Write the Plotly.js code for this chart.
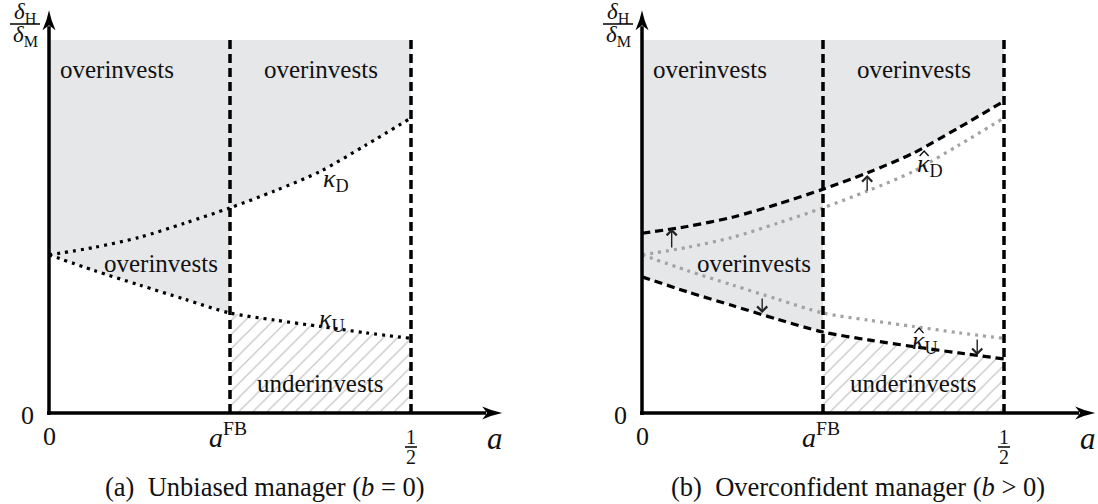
<!DOCTYPE html>
<html>
<head>
<meta charset="utf-8">
<script src="https://cdn.plot.ly/plotly-3.0.1.min.js"></script>
<style>html,body{margin:0;padding:0;background:#fff;}#chart{width:1098px;height:504px;}</style>
</head>
<body>
<div id="chart"></div>
<script>
// ---- data ----
const A = [0, 0.0625, 0.125, 0.1875, 0.25, 0.3125, 0.375, 0.4375, 0.5];
const KAPPA_D = [0.424, 0.444, 0.471, 0.509, 0.550, 0.596, 0.648, 0.718, 0.791];
const KAPPA_U = [0.424, 0.382, 0.343, 0.305, 0.268, 0.249, 0.232, 0.215, 0.200];
const KAPPA_D_HAT = [0.482, 0.500, 0.525, 0.560, 0.600, 0.645, 0.697, 0.765, 0.836];
const KAPPA_U_HAT = [0.365, 0.325, 0.288, 0.251, 0.217, 0.196, 0.178, 0.161, 0.145];
const A_FB = 0.25;
const A_HALF = 0.5;
const Y_TOP = 1;
const SHIFT_ARROW_X = [0.041, 0.311, 0.166, 0.463];
const SHIFT_ARROW_FROM = [0.440, 0.592, 0.311, 0.201];
const SHIFT_ARROW_TO = [0.494, 0.638, 0.268, 0.155];
const REGION_LABELS = ['overinvests', 'overinvests', 'overinvests', 'underinvests'];
const REGION_X = [0.094, 0.375, 0.155, 0.374];
const REGION_Y = [0.920, 0.920, 0.402, 0.080];
const CAPTIONS = ['(a)  Unbiased manager (<i>b</i> = 0)', '(b)  Overconfident manager (<i>b</i> &gt; 0)'];

// ---- styling ----
const FONT = 'Liberation Serif, Times New Roman, serif';
const GRAY = '#e6e7e9';
const DOTS = '3px,5px';
const DASH = '8px,5px';
const iFB = A.indexOf(A_FB);

function sl(arr, a, b) { return arr.slice(a, b); }
function ft(xs, ys, xa, fill, opts) {
  return Object.assign({type: 'scatter', mode: 'lines', x: xs, y: ys, xaxis: xa, yaxis: 'y',
    line: {width: 0, shape: 'spline', smoothing: 0.8}, fill: fill, fillcolor: GRAY,
    hoverinfo: 'skip', showlegend: false}, opts || {});
}
function ln(xs, ys, xa, color, dash) {
  return {type: 'scatter', mode: 'lines', x: xs, y: ys, xaxis: xa, yaxis: 'y',
    line: {width: 3.2, color: color, dash: dash, shape: 'spline', smoothing: 0.8},
    hoverinfo: 'skip', showlegend: false};
}
const hatch = {fill: 'tozeroy', fillcolor: 'rgba(0,0,0,0)',
  fillpattern: {shape: '/', fgcolor: '#c4c4c4', bgcolor: 'rgba(0,0,0,0)', size: 10, solidity: 0.12}};

function regions(xa, kd, ku) {
  const top = A.map(() => Y_TOP);
  return [
    ft(A, top, xa, 'none'),
    ft(A, kd, xa, 'tonexty'),
    ft(sl(A, 0, iFB + 1), sl(kd, 0, iFB + 1), xa, 'none'),
    ft(sl(A, 0, iFB + 1), sl(ku, 0, iFB + 1), xa, 'tonexty'),
    ft(sl(A, iFB), sl(ku, iFB), xa, 'tozeroy', hatch)
  ];
}

const traces = [].concat(
  regions('x', KAPPA_D, KAPPA_U),
  [ln(A, KAPPA_D, 'x', '#000', DOTS), ln(A, KAPPA_U, 'x', '#000', DOTS)],
  regions('x2', KAPPA_D_HAT, KAPPA_U_HAT),
  [ln(A, KAPPA_D, 'x2', '#a2a2a2', DOTS), ln(A, KAPPA_U, 'x2', '#a2a2a2', DOTS),
   ln(A, KAPPA_D_HAT, 'x2', '#000', DASH), ln(A, KAPPA_U_HAT, 'x2', '#000', DASH)]
);

// pixel scale helpers (x: 724 px per unit, y: 373 px per unit)
const PX = 1 / 724, PY = 1 / 373;
const X_TIP = 0.626, Y_TIP = 1.08;

const shapes = [], annotations = [];
['x', 'x2'].forEach((xa, p) => {
  const s = {xref: xa, yref: 'y', layer: 'above'};
  // dashed verticals
  [A_FB, A_HALF].forEach(v => shapes.push(Object.assign({type: 'line', x0: v, x1: v, y0: 0, y1: Y_TOP,
    line: {color: '#000', width: 3.5, dash: '9px,5px'}}, s)));
  // axes
  shapes.push(Object.assign({type: 'line', x0: -2 * PX, x1: X_TIP - 16 * PX, y0: 0, y1: 0, line: {color: '#000', width: 3.5}}, s));
  shapes.push(Object.assign({type: 'line', x0: 0, x1: 0, y0: -2 * PY, y1: Y_TIP - 16 * PY, line: {color: '#000', width: 3.5}}, s));
  const L = 20, W = 6.5, N = 15;
  shapes.push(Object.assign({type: 'path', fillcolor: '#000', line: {width: 0},
    path: `M${X_TIP},0 Q${X_TIP - 10 * PX},${2 * PY} ${X_TIP - L * PX},${W * PY} L${X_TIP - N * PX},0 L${X_TIP - L * PX},${-W * PY} Q${X_TIP - 10 * PX},${-2 * PY} ${X_TIP},0 Z`}, s));
  shapes.push(Object.assign({type: 'path', fillcolor: '#000', line: {width: 0},
    path: `M0,${Y_TIP} Q${2 * PX},${Y_TIP - 10 * PY} ${W * PX},${Y_TIP - L * PY} L0,${Y_TIP - N * PY} L${-W * PX},${Y_TIP - L * PY} Q${-2 * PX},${Y_TIP - 10 * PY} 0,${Y_TIP} Z`}, s));
  // fraction bars
  shapes.push(Object.assign({type: 'line', x0: A_HALF - 6 * PX, x1: A_HALF + 6 * PX, y0: -34 * PY, y1: -34 * PY, line: {color: '#000', width: 1.5}}, s));
  shapes.push(Object.assign({type: 'line', x0: -39 * PX, x1: -9 * PX, y0: Y_TOP + 16 * PY, y1: Y_TOP + 16 * PY, line: {color: '#000', width: 1.5}}, s));

  const t = (x, y, text, size, extra) => annotations.push(Object.assign({xref: xa, yref: 'y', x: x, y: y, text: text,
    showarrow: false, font: {family: FONT, size: size, color: '#111'}, xanchor: 'center', yanchor: 'middle'}, extra || {}));
  // tick labels
  t(-22 * PX, -2 * PY, '0', 26);
  t(0, -23 * PY, '0', 26);
  t(A_FB - 2 * PX, -22 * PY, '<i>a</i><sup>FB</sup>', 28);
  t(A_HALF, -24 * PY, '1', 20);
  t(A_HALF, -44 * PY, '2', 20);
  t(0.616, -25 * PY, '<i>a</i>', 31);
  t(-24 * PX, Y_TOP + 27 * PY, '<i>δ</i><sub>H</sub>', 23);
  t(-24 * PX, Y_TOP + 4 * PY, '<i>δ</i><sub>M</sub>', 23);
  // region labels
  REGION_LABELS.forEach((r, i) => t(REGION_X[i], REGION_Y[i], r, 25));
  // curve labels
  if (p === 0) {
    t(0.396, 0.625, '<i>κ</i><sub>D</sub>', 26);
    t(0.391, 0.249, '<i>κ</i><sub>U</sub>', 26);
  } else {
    const hats = [[0.398, 0.665], [0.391, 0.190]];
    hats.forEach(([hx, hy], i) => {
      t(hx, hy, '<i>κ</i><sub>' + (i === 0 ? 'D' : 'U') + '</sub>', 26);
      const cx = hx - 6 * PX, base = hy + 9 * PY;
      shapes.push(Object.assign({type: 'path', line: {color: '#111', width: 1.4},
        path: `M${cx - 4.5 * PX},${base} L${cx},${base + 5 * PY} L${cx + 4.5 * PX},${base}`}, s));
    });
    SHIFT_ARROW_X.forEach((x, i) => annotations.push({xref: 'x2', yref: 'y', axref: 'x2', ayref: 'y',
      x: x, y: SHIFT_ARROW_TO[i], ax: x, ay: SHIFT_ARROW_FROM[i], text: '', showarrow: true,
      arrowhead: 4, arrowsize: 1.4, arrowwidth: 1.4, arrowcolor: '#222', standoff: 0}));
  }
  t(0.298, -74 * PY, CAPTIONS[p], 26.5);
});

const layout = {
  width: 1098, height: 504, margin: {l: 0, r: 0, t: 0, b: 0},
  paper_bgcolor: '#fff', plot_bgcolor: '#fff', showlegend: false,
  xaxis: {domain: [0, 0.5], range: [-49 / 724, 500 / 724], visible: false, fixedrange: true},
  xaxis2: {domain: [0.5, 1], range: [-93 / 724, 456 / 724], visible: false, fixedrange: true, anchor: 'y'},
  yaxis: {domain: [0, 1], range: [-91 / 373, 413 / 373], visible: false, fixedrange: true},
  shapes: shapes, annotations: annotations
};
Plotly.newPlot('chart', traces, layout, {staticPlot: true, displayModeBar: false});
</script>
</body>
</html>
